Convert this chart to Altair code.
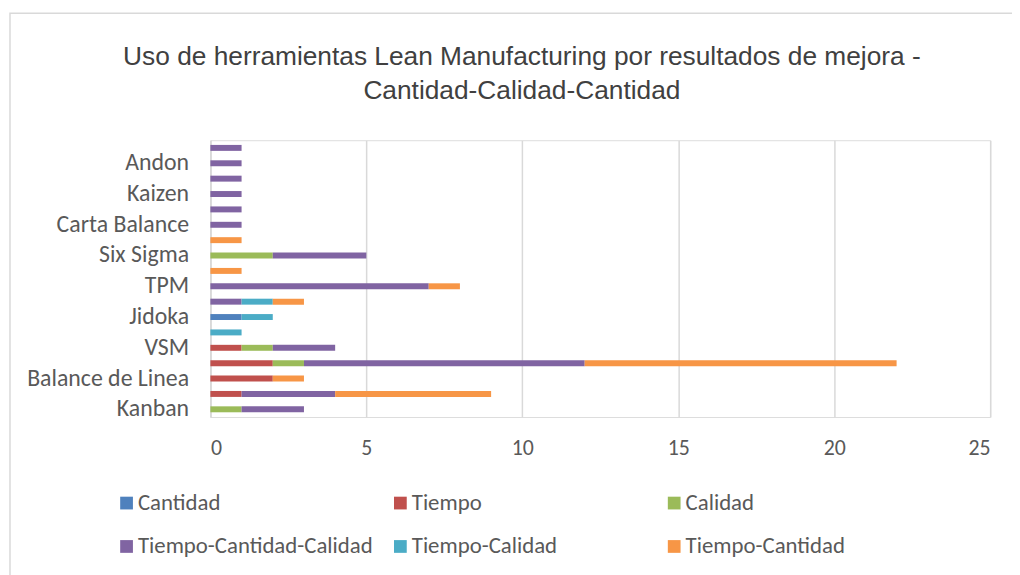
import altair as alt
import pandas as pd

# Categories from bottom to top (every other label is hidden, as in the original)
categories = ["Kanban", "Just in Time", "Balance de Linea", "5S", "VSM", "Poka Yoke",
              "Jidoka", "SMED", "TPM", "Heijunka", "Six Sigma", "Gemba",
              "Carta Balance", "Takt Time", "Kaizen", "Hoshin Kanri", "Andon", "Estandarización"]
shown_labels = ["Kanban", "Balance de Linea", "VSM", "Jidoka", "TPM", "Six Sigma",
                "Carta Balance", "Kaizen", "Andon"]

series = ["Cantidad", "Tiempo", "Calidad", "Tiempo-Cantidad-Calidad", "Tiempo-Calidad", "Tiempo-Cantidad"]
colors = ["#4f81bd", "#c0504d", "#9bbb59", "#8064a2", "#4bacc6", "#f79646"]

cantidad = [0, 0, 0, 0, 0, 0, 1, 0, 0, 0, 0, 0, 0, 0, 0, 0, 0, 0]
tiempo = [0, 1, 2, 2, 1, 0, 0, 0, 0, 0, 0, 0, 0, 0, 0, 0, 0, 0]
calidad = [1, 0, 0, 1, 1, 0, 0, 0, 0, 0, 2, 0, 0, 0, 0, 0, 0, 0]
tiempo_cantidad_calidad = [2, 3, 0, 9, 2, 0, 0, 1, 7, 0, 3, 0, 1, 1, 1, 1, 1, 1]
tiempo_calidad = [0, 0, 0, 0, 0, 1, 1, 1, 0, 0, 0, 0, 0, 0, 0, 0, 0, 0]
tiempo_cantidad = [0, 5, 1, 10, 0, 0, 0, 1, 1, 1, 0, 1, 0, 0, 0, 0, 0, 0]

values = [cantidad, tiempo, calidad, tiempo_cantidad_calidad, tiempo_calidad, tiempo_cantidad]

rows = []
for si, (s, vals) in enumerate(zip(series, values)):
    for c, v in zip(categories, vals):
        if v:
            rows.append({"herramienta": c, "serie": s, "orden": si, "valor": v})
df = pd.DataFrame(rows)

FONT = "Carlito, Lato, sans-serif"
GRAY = "#595959"

label_expr = "indexof([" + ",".join("'" + l + "'" for l in shown_labels) + "], datum.value) >= 0 ? datum.label : ''"

bars = alt.Chart(df).mark_bar(size=6).encode(
    x=alt.X("valor:Q", stack="zero", scale=alt.Scale(domain=[0, 25]),
            axis=alt.Axis(title=None, values=[0, 5, 10, 15, 20, 25], grid=True, gridColor="#d9d9d9",
                          gridWidth=1.5, domain=False, ticks=False, labelFontSize=22,
                          labelColor=GRAY, labelFont=FONT, labelPadding=21)),
    y=alt.Y("herramienta:N", sort=list(reversed(categories)),
            axis=alt.Axis(title=None, labelExpr=label_expr, ticks=False, domain=True,
                          domainColor="#d9d9d9", domainWidth=1.5, labelFontSize=24,
                          labelColor=GRAY, labelFont=FONT, labelPadding=22, labelLimit=300)),
    color=alt.Color("serie:N", scale=alt.Scale(domain=series, range=colors),
                    legend=alt.Legend(title=None, orient="none", legendX=-96, legendY=354,
                                      direction="horizontal", columns=3, gridAlign="all",
                                      symbolType="square", symbolSize=165, symbolStrokeWidth=0,
                                      labelFontSize=23, labelFont=FONT, labelColor=GRAY,
                                      columnPadding=16, rowPadding=20, labelOffset=0,
                                      labelLimit=400)),
    order=alt.Order("orden:Q", sort="ascending"),
)

border = alt.Chart(pd.DataFrame({"a": [0]})).mark_rect(
    fill="transparent", stroke="#d9d9d9", strokeWidth=1.5
).encode(
    x=alt.value(-202), x2=alt.value(830), y=alt.value(-128), y2=alt.value(470)
)

chart = alt.layer(border, bars).properties(
    width=786, height=279,
    title=alt.TitleParams(
        text=["Uso de herramientas Lean Manufacturing por resultados de mejora -",
              "Cantidad-Calidad-Cantidad"],
        font="Liberation Sans Narrow, Arial Narrow, sans-serif", fontSize=26.5, fontWeight="normal",
        color="#404040", anchor="middle", frame="bounds", offset=0, dy=93, lineHeight=35),
    autosize=alt.AutoSizeParams(type="none"),
    padding={"left": 204, "top": 131, "right": 22, "bottom": 157},
).configure_view(stroke=None).configure(background="white")

chart.save("out.html", embed_options={"renderer": "svg", "actions": False})
